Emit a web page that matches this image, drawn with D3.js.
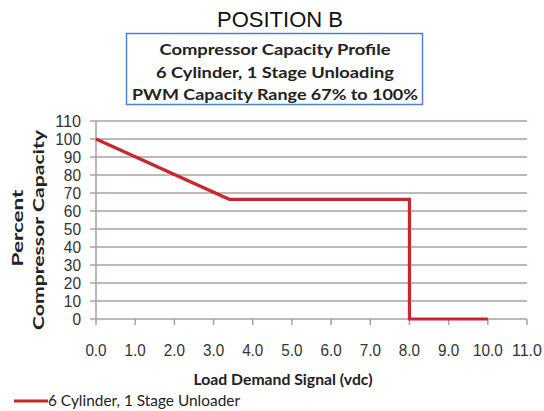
<!DOCTYPE html>
<html lang="en">
<head>
  <meta charset="utf-8">
  <title>Compressor Capacity Profile</title>
  <script src="https://d3js.org/d3.v7.min.js"></script>
</head>
<style>
body { margin: 0; background: white; }
.grid line { stroke: #aaa09e; stroke-width: 1.5px; }
.tick-label { font-family: "Liberation Sans", Arial, sans-serif; font-size: 17px; fill: #333; }
.bold-label { font-family: Lato, "Open Sans", sans-serif; font-weight: bold; fill: #222; }
</style>
<body>
<div class="chart"></div>
<script>
// data
var signal   = [0, 3.4, 8.0, 8.0, 10.0];
var capacity = [100, 66.5, 66.5, 0, 0];
var yTicks = [0, 10, 20, 30, 40, 50, 60, 70, 80, 90, 100, 110];
var xTicks = [0, 1, 2, 3, 4, 5, 6, 7, 8, 9, 10, 11];
var boxLines = ["Compressor Capacity Profile", "6 Cylinder, 1 Stage Unloading", "PWM Capacity Range 67% to 100%"];
var seriesName = "6 Cylinder, 1 Stage Unloader";

var width = 544, height = 411;
var plot = {left: 96, right: 527, top: 121, bottom: 319};

var svg = d3.select(".chart").append("svg")
  .attr("width", width)
  .attr("height", height);

var x = d3.scaleLinear().domain([0, 11]).range([plot.left, plot.right]);
var y = d3.scaleLinear().domain([0, 110]).range([plot.bottom, plot.top]);

// narrow label width, like the condensed font in the original
var narrow = function(s) {
  var w = 0;
  for (var c of s) w += (c == ".") ? 4 : 8.6;
  return w;
};

// title
svg.append("text")
  .attr("x", 280).attr("y", 27)
  .attr("text-anchor", "middle")
  .style("font-family", "Liberation Sans, Arial, sans-serif")
  .style("font-size", "22px")
  .style("fill", "#111")
  .text("POSITION B");

// boxed subtitle
svg.append("rect")
  .attr("x", 126.5).attr("y", 33.5)
  .attr("width", 296).attr("height", 71)
  .attr("fill", "white")
  .attr("stroke", "#4f7fd0")
  .attr("stroke-width", 1.5);

var boxWidths = [231, 238, 286];
svg.selectAll(".box-line")
  .data(boxLines)
  .enter()
  .append("text")
  .attr("class", "bold-label box-line")
  .attr("x", 275)
  .attr("y", function(d, i) { return 55 + i * 22.5; })
  .attr("text-anchor", "middle")
  .attr("textLength", function(d, i) { return boxWidths[i]; })
  .attr("lengthAdjust", "spacingAndGlyphs")
  .style("font-size", "15.5px")
  .text(function(d) { return d; });

// horizontal gridlines (extend a little left of the axis like tick marks)
svg.append("g").attr("class", "grid")
  .selectAll("line")
  .data(yTicks)
  .enter()
  .append("line")
  .attr("x1", plot.left - 6)
  .attr("x2", plot.right)
  .attr("y1", function(d) { return y(d); })
  .attr("y2", function(d) { return y(d); });

// y axis line
svg.append("g").attr("class", "grid")
  .append("line")
  .attr("x1", plot.left).attr("x2", plot.left)
  .attr("y1", y(110)).attr("y2", y(0));

// x ticks
svg.append("g").attr("class", "grid")
  .selectAll("line")
  .data(xTicks)
  .enter()
  .append("line")
  .attr("x1", function(d) { return x(d); })
  .attr("x2", function(d) { return x(d); })
  .attr("y1", y(0))
  .attr("y2", y(0) + 6);

// y tick labels
svg.selectAll(".ylab")
  .data(yTicks)
  .enter()
  .append("text")
  .attr("class", "tick-label ylab")
  .attr("x", 81)
  .attr("y", function(d) { return y(d); })
  .attr("dy", "0.36em")
  .attr("text-anchor", "end")
  .attr("textLength", function(d) { return narrow(String(d)); })
  .attr("lengthAdjust", "spacingAndGlyphs")
  .text(function(d) { return d; });

// x tick labels
svg.selectAll(".xlab")
  .data(xTicks)
  .enter()
  .append("text")
  .attr("class", "tick-label xlab")
  .attr("x", function(d) { return x(d); })
  .attr("y", 356)
  .attr("text-anchor", "middle")
  .attr("textLength", function(d) { return narrow(d.toFixed(1)); })
  .attr("lengthAdjust", "spacingAndGlyphs")
  .text(function(d) { return d.toFixed(1); });

// series line
var pts = signal.map(function(s, i) { return [s, capacity[i]]; });
svg.append("path")
  .datum(pts)
  .attr("fill", "none")
  .attr("stroke", "#c8272e")
  .attr("stroke-width", 3.2)
  .attr("stroke-linejoin", "miter")
  .attr("d", d3.line()
    .x(function(d) { return x(d[0]); })
    .y(function(d) { return y(d[1]); }));

// axis titles
svg.append("text")
  .attr("class", "bold-label")
  .attr("transform", "translate(23,228) rotate(-90)")
  .attr("text-anchor", "middle")
  .attr("textLength", 77)
  .attr("lengthAdjust", "spacingAndGlyphs")
  .style("font-size", "16px")
  .text("Percent");
svg.append("text")
  .attr("class", "bold-label")
  .attr("transform", "translate(44,230) rotate(-90)")
  .attr("text-anchor", "middle")
  .attr("textLength", 200)
  .attr("lengthAdjust", "spacingAndGlyphs")
  .style("font-size", "16px")
  .text("Compressor Capacity");

svg.append("text")
  .attr("class", "bold-label")
  .attr("x", 283).attr("y", 385)
  .attr("text-anchor", "middle")
  .attr("textLength", 179)
  .attr("lengthAdjust", "spacingAndGlyphs")
  .style("font-size", "15px")
  .text("Load Demand Signal (vdc)");

// legend
svg.append("line")
  .attr("x1", 14).attr("x2", 48)
  .attr("y1", 401).attr("y2", 401)
  .attr("stroke", "#c8272e")
  .attr("stroke-width", 3);
svg.append("text")
  .attr("x", 48).attr("y", 406)
  .attr("textLength", 192)
  .attr("lengthAdjust", "spacingAndGlyphs")
  .style("font-family", "Lato, 'Open Sans', sans-serif")
  .style("font-size", "15px")
  .style("fill", "#222")
  .text(seriesName);
</script>
</body>
</html>
